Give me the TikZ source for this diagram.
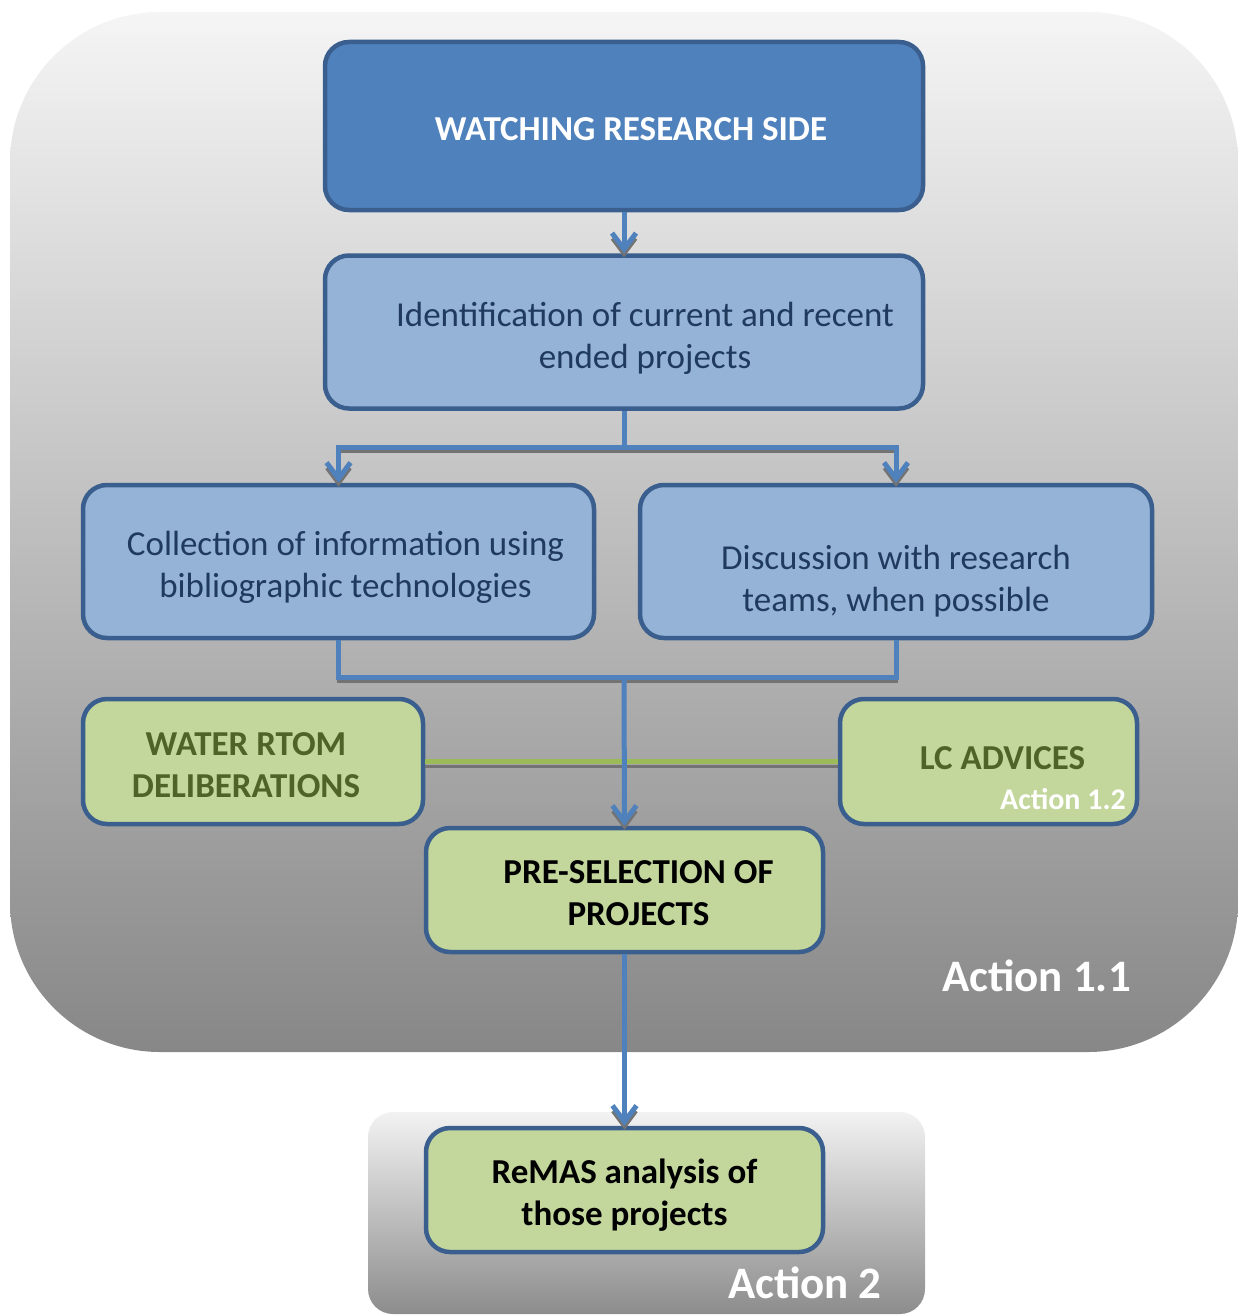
\documentclass[tikz,border=0pt]{standalone}
\usepackage{fontspec}
\setmainfont{Carlito}
\usetikzlibrary{arrows.meta}

\definecolor{boxblue}{HTML}{4F81BD}
\definecolor{boxedge}{HTML}{3A5F8E}
\definecolor{boxlight}{HTML}{95B3D7}
\definecolor{boxtext}{HTML}{1F3A5C}
\definecolor{boxgreen}{HTML}{C3D69B}
\definecolor{olivetext}{HTML}{4F6228}
\definecolor{linkblue}{HTML}{4F81BD}
\definecolor{linkgreen}{HTML}{9BBB59}

% centred lines, moved sideways by #1
\newcommand{\boxlines}[2]{\makebox[0pt]{\kern#1\kern#1\begin{tabular}{@{}c@{}}#2\end{tabular}}}

\begin{document}
\begin{tikzpicture}[x=1pt, y=-1pt,
    every node/.style={font=\fontsize{35}{42}\selectfont},
    darkbox/.style={draw=boxedge, fill=boxblue, line width=4.5pt, rounded corners=24pt, text=white, font=\fontsize{35}{42}\selectfont\bfseries},
    lightbox/.style={draw=boxedge, fill=boxlight, line width=4.5pt, rounded corners=24pt, text=boxtext},
    greenbox/.style={draw=boxedge, fill=boxgreen, line width=4.5pt, rounded corners=24pt, font=\fontsize{35}{42}\selectfont\bfseries},
    actionlabel/.style={anchor=base east, inner sep=0pt, text=white, font=\fontsize{45}{48}\selectfont\bfseries},
    flowline/.style={draw=linkblue, line width=5pt, preaction={draw=black!55, line width=3pt, transform canvas={yshift=-4pt}}},
    flowarrow/.style={flowline, -{Straight Barb[length=16pt, width=24pt]}},
    greenline/.style={draw=linkgreen, line width=5pt, preaction={draw=black!55, line width=3pt, transform canvas={yshift=-5pt}}},
    ]
    \useasboundingbox (0,0) rectangle (1238,1316);

    % Panels
    \shade[rounded corners=150pt, top color=white!96!black, bottom color=black!47] (10,12) rectangle (1238,1052);
    \shade[rounded corners=25pt, top color=white!95!black, bottom color=black!45] (368,1112) rectangle (925,1314);

    % Boxes
    \node[darkbox, minimum width=598pt, minimum height=168pt] (watch) at (624,126) {\boxlines{7pt}{\rule{0pt}{42pt}WATCHING RESEARCH SIDE}};
    \node[lightbox, minimum width=598pt, minimum height=153pt] (ident) at (624,332) {\boxlines{21pt}{\rule{0pt}{44pt}Identification of current and recent\\ended projects}};
    \node[lightbox, minimum width=511pt, minimum height=153pt] (collect) at (338.5,561.5) {\boxlines{7pt}{\rule{0pt}{42pt}Collection of information using\\bibliographic technologies}};
    \node[lightbox, minimum width=512pt, minimum height=153pt] (discuss) at (896,561.5) {\boxlines{0pt}{\rule{0pt}{70pt}Discussion with research\\teams, when possible}};
    \node[greenbox, text=olivetext, minimum width=340pt, minimum height=125pt] (water) at (253,761.5) {\boxlines{-7pt}{\rule{0pt}{42pt}WATER RTOM\\DELIBERATIONS}};
    \node[greenbox, text=olivetext, minimum width=297pt, minimum height=125pt] (lcadv) at (988.5,761.5) {\boxlines{14pt}{LC ADVICES}};
    \node[greenbox, minimum width=397pt, minimum height=124pt] (presel) at (624.5,890) {\boxlines{14pt}{\rule{0pt}{42pt}PRE-SELECTION OF\\PROJECTS}};
    \node[greenbox, minimum width=397pt, minimum height=124pt] (remas) at (624.5,1190) {\boxlines{0pt}{\rule{0pt}{42pt}ReMAS analysis of\\those projects}};

    % Labels
    \node[anchor=base east, inner sep=0pt, text=white, font=\fontsize{30}{32}\selectfont\bfseries] (act12) at (1126,809) {Action 1.2};
    \node[actionlabel] (act11) at (1131,991) {Action 1.1};
    \node[actionlabel] (act2) at (882,1298) {Action 2};

    % Connectors
    \coordinate (split) at (624,447);
    \coordinate (merge) at (624,677);
    \draw[flowarrow] (watch) -- (ident);
    \draw[flowline] (ident.south) -- (split);
    \draw[flowarrow] (split) -| (collect.north);
    \draw[flowarrow] (split) -| (discuss.north);
    \draw[flowline] (collect.south) |- (merge) -| (discuss.south);
    \draw[greenline] (water.east) -- (lcadv.west);
    \draw[flowarrow] (merge) -- (presel.north);
    \draw[flowarrow] (presel) -- (remas);
\end{tikzpicture}
\end{document}
